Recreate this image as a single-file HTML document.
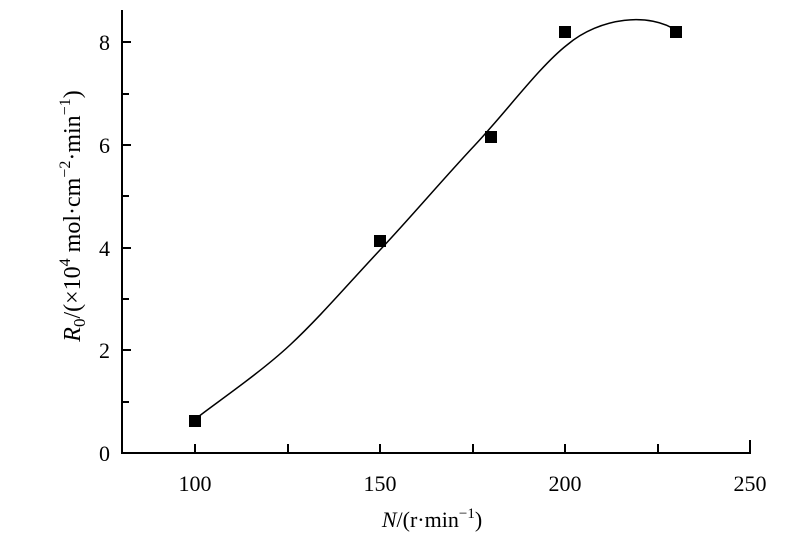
<!DOCTYPE html>
<html><head><meta charset="utf-8"><style>body{margin:0;background:#fff}svg{display:block}</style></head><body>
<svg width="800" height="537" xmlns="http://www.w3.org/2000/svg" font-family="Liberation Serif, serif" fill="#000">
<g stroke="#000" stroke-width="2" fill="none">
<line x1="122" y1="10" x2="122" y2="453"/>
<line x1="121" y1="453" x2="751" y2="453"/>
<line x1="195" y1="453" x2="195" y2="444"/>
<line x1="288" y1="453" x2="288" y2="444"/>
<line x1="380" y1="453" x2="380" y2="444"/>
<line x1="473" y1="453" x2="473" y2="444"/>
<line x1="565" y1="453" x2="565" y2="444"/>
<line x1="658" y1="453" x2="658" y2="444"/>
<line x1="750" y1="453" x2="750" y2="440"/>
<line x1="122" y1="42" x2="131" y2="42"/>
<line x1="122" y1="94" x2="129" y2="94"/>
<line x1="122" y1="145" x2="131" y2="145"/>
<line x1="122" y1="196" x2="129" y2="196"/>
<line x1="122" y1="248" x2="131" y2="248"/>
<line x1="122" y1="299" x2="129" y2="299"/>
<line x1="122" y1="350" x2="131" y2="350"/>
<line x1="122" y1="402" x2="129" y2="402"/>
</g>
<path fill="none" stroke="#000" stroke-width="1.5" d="M198,417 C213,405 260,373 290,345 C320,317 349,283 380,250 C411,217 444,178 475,145 C506,112 540,66 567,45 C600,17 650,12 677,31"/>
<g>
<rect x="189" y="415" width="12" height="12"/>
<rect x="374" y="235" width="12" height="12"/>
<rect x="485" y="131" width="12" height="12"/>
<rect x="559" y="26" width="12" height="12"/>
<rect x="670" y="26" width="12" height="12"/>
</g>
<g font-size="22" text-anchor="end">
<text x="110" y="50">8</text>
<text x="110" y="153">6</text>
<text x="110" y="256">4</text>
<text x="110" y="358">2</text>
<text x="110" y="461">0</text>
</g>
<g font-size="22" text-anchor="middle">
<text x="195" y="491">100</text>
<text x="380" y="491">150</text>
<text x="565" y="491">200</text>
<text x="750" y="491">250</text>
<text x="432" y="527"><tspan font-style="italic">N</tspan>/(r·min<tspan font-size="15" dy="-9">−1</tspan><tspan dy="9">)</tspan></text>
</g>
<text transform="translate(80,216) rotate(-90)" font-size="24" text-anchor="middle"><tspan font-style="italic">R</tspan><tspan font-size="17" dy="5">0</tspan><tspan dy="-5">/(×10</tspan><tspan font-size="16" dy="-10">4</tspan><tspan dy="10"> mol·cm</tspan><tspan font-size="16" dy="-10">−2</tspan><tspan dy="10">·min</tspan><tspan font-size="16" dy="-10">−1</tspan><tspan dy="10">)</tspan></text>
</svg>
</body></html>
